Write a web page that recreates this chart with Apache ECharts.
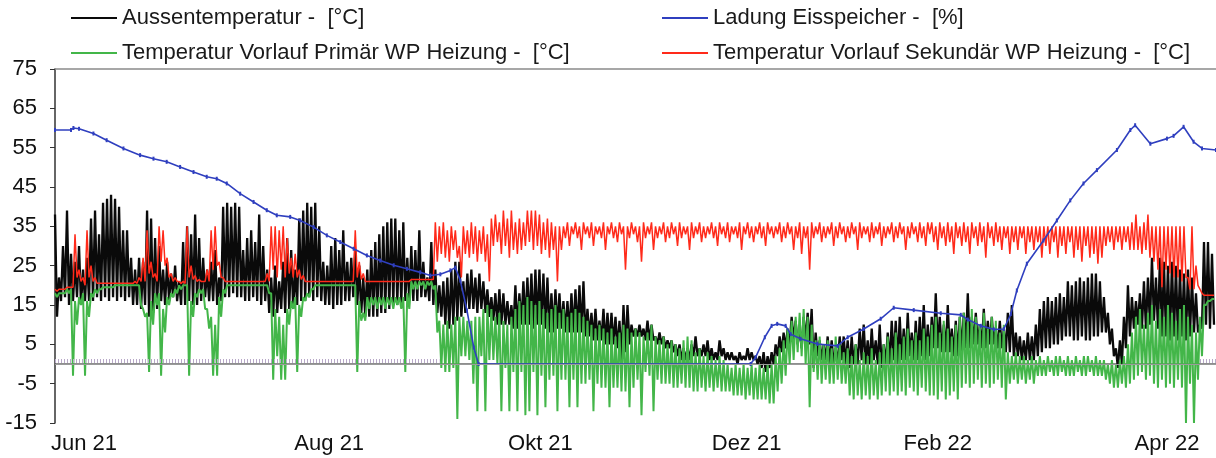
<!DOCTYPE html>
<html>
<head>
<meta charset="utf-8">
<script src="https://cdn.jsdelivr.net/npm/echarts@6/dist/echarts.min.js"></script>
<style>
  html, body { margin: 0; padding: 0; background: #fff; }
  #chart { width: 1216px; height: 458px; }
</style>
</head>
<body>
<div id="chart"></div>
<script>
// x position unit = one step of the logger export (about one day), 0..290
var tickPos = [7.25, 68.5, 121.25, 172.75, 220.5, 277.75];
var tickLabels = ['Jun 21', 'Aug 21', 'Okt 21', 'Dez 21', 'Feb 22', 'Apr 22'];

var nameAussen = 'Aussentemperatur -  [°C]';
var nameLadung = 'Ladung Eisspeicher -  [%]';
var namePrimaer = 'Temperatur Vorlauf Primär WP Heizung -  [°C]';
var nameSekundaer = 'Temperatur Vorlauf Sekundär WP Heizung -  [°C]';

// Aussentemperatur: daily peak / daily low
var aussenHi = [
  38,22,30,39,28,26,30,24,27,37, 39,33,41,42,43,42,40,34,34,27, 24,27,26,39,37,32,30,24,26,23,
  25,21,31,35,33,38,32,27,24,26, 29,22,40,41,40,41,40,29,32,34, 31,38,30,24,22,25,21,26,32,29,
  24,37,39,41,40,41,35,26,25,30, 32,29,34,26,
  27,29,25,22,24,29,31,33,35,36, 37,37,34,36,27,30,29,34,26,22, 31,24,20,21,22,24,26,26,21,23,
  24,22,23,21,19,17,18,19,18,16, 15,20,18,21,22,23,24,24,23,22, 18,19,18,16,16,18,19,20,21,14,
  13,14,11,14,13,13,12,11,15,15, 10,9,
  10,9,11,10,7,8,7,6,6,5, 5,4,4,5,7,4,5,6,4,3, 6,4,3,3,2,3,2,4,3,2,
  2,3,2,3,5,7,8,9,12,11, 9,12,13,14,8,6,5,7,6,4, 7,7,6,7,5,9,10,6,9,6,
  10,5,8,11,11,12,9,13,8,11, 12,15,10,
  12,18,12,10,15,9,11,12,13,18, 12,13,10,14,11,12,9,11,9,13, 15,8,7,6,8,7,10,14,16,17,
  16,17,18,17,21,20,21,22,21,22, 23,23,21,17,13,9,4,6,12,20, 17,16,18,21,22,27,22,27,26,25,
  26,25,24,23,24,22,18,10,31,31, 28
];
var aussenLo = [
  12,16,17,15,16,17,15,16,16,16, 17,16,17,16,17,16,17,16,17,15, 15,14,15,12,13,14,16,15,16,17,
  16,15,15,16,15,15,16,17,16,16, 15,16,17,17,18,17,17,16,16,17, 16,15,16,13,12,13,14,13,14,14,
  15,16,16,17,16,17,16,15,15,14, 15,15,16,16,
  17,15,13,12,12,12,12,13,13,14, 15,15,15,16,16,16,16,17,17,16, 15,13,12,10,9,10,11,12,13,14,
  14,13,14,13,12,11,10,10,10,10, 9,9,10,10,10,9,10,10,9,8, 8,9,9,8,8,8,8,8,7,7,
  6,6,6,5,5,5,4,1,3,5, 7,7,
  7,6,6,6,5,5,4,4,3,2, 1,1,1,2,2,2,2,1,1,1, 2,1,1,1,0,1,1,1,1,0,
  -1,-2,-1,0,2,3,4,5,6,5, 4,6,5,-1,2,1,1,0,0,0, 1,0,-1,0,0,1,0,0,1,0,
  -1,0,0,1,0,1,1,2,1,1, 2,1,2,
  4,4,3,3,3,2,2,3,4,4, 5,5,4,4,5,5,4,4,3,3, 2,2,1,1,1,1,2,3,4,4,
  5,5,6,7,7,6,6,7,6,6, 7,7,8,8,5,2,-1,0,4,7, 9,10,9,9,10,11,9,7,7,6,
  7,6,7,6,7,8,8,9,10,9, 10
];

// Vorlauf Primär
var primaerHi = [
  18,18,18,19,19,16,17,18,16,18, 19,19,19.5,19.5,19.5,20,20,20,20,20, 20,20,14,13,16,18,18,14,17,18,
  19,20,20,20,16,18,19,19,14,12, 10,17,19,20,20,20,20,20,20,20, 20,20,20,20,18,14,12,10,14,16,
  17,15,17,18,19,20,20,20,20,20, 20,20,20,20,
  20,20,16,13,17,17,17,17,17,17, 17,17,17,17,18,21,21,21,21,21, 21,20,11,10,11,10,12,12,12,11,
  11,12,12,14,15,14,12,13,11,10, 12,14,16,15,17,16,15,16,14,13, 14,15,13,14,12,13,14,13,12,11,
  10,9,10,9,8,9,7,8,10,9, 8,9,
  8,7,8,10,7,6,7,5,6,5, 4,6,7,6,3,4,2,3,2,1, 2,1,0,-1,0,-1,0,-1,0,-1,
  0,-1,0,0,2,4,6,9,11,12, 13,14,12,10,6,7,5,6,4,7, 5,3,4,2,5,1,3,2,4,1,
  3,5,7,4,8,5,7,9,6,8, 6,9,7,
  10,12,8,11,9,7,10,12,13,11, 14,12,10,13,9,12,11,8,10,3, 2,3,2,2,1,2,1,2,1,2,
  1,2,2,1,2,1,2,1,2,2, 1,2,1,1,0,1,0,1,2,5, 8,12,14,10,13,15,11,14,12,15,
  13,11,14,15,12,10,8,12,15,16, 16.5
];
var primaerLo = [
  17,18,18,18,-3,10,15,-3,12,17, 18,19,19.5,19.5,19.5,20,20,20,20,20, 20,15,12,-2,10,15,-3,8,15,17,
  18,19,20,-3,12,17,18,14,9,-3, -3,12,18,20,20,20,20,20,20,20, 20,20,20,18,-4,2,-4,-4,10,14,
  -2,12,16,17,19,20,20,20,20,20, 20,20,20,20,
  20,-2,11,11,14,15,14,15,14,15, 14,15,14,-2,14,19,19,20,19,20, 19,8,-1,-2,-2,-1,-14,2,2,1,
  -5,-12,2,-12,1,1,0,-12,-1,-12, -2,-12,-2,-13,-12,-2,-13,-3,-11,-4, -3,-12,-4,-4,-11,-4,-11,-5,-5,-4,
  -12,-5,-6,-6,-11,-6,-6,-7,-7,-11, -6,-4,
  -13,-2,-3,-12,-4,-5,-5,-5,-6,-6, -5,-6,-6,-7,-7,-6,-7,-6,-7,-6, -7,-7,-7,-8,-8,-8,-9,-8,-9,-9,
  -9,-9,-10,-10,-7,-5,-3,0,1,3, 2,0,-11,-2,-4,-5,-4,-5,-5,-4, -5,-5,-8,-9,-8,-9,-8,-9,-8,-9,
  -8,-7,-8,-7,-8,-7,-8,-6,-7,-8, -6,-7,-8,
  -8,-9,-7,-9,-8,-7,-9,-6,-5,-6, -5,-4,-6,-5,-6,-5,-4,-6,-9,-5, -4,-5,-4,-5,-4,-5,-3,-3,-3,-2,
  -3,-3,-2,-3,-3,-3,-2,-3,-3,-2, -3,-3,-3,-4,-5,-6,-6,-5,-6,-5, -4,-3,-2,-4,-3,-5,-6,-4,-6,-5,
  -6,-4,-6,-15,-5,-15,-4,2,15,16, 16.5
];

// Vorlauf Sekundär
var sekundaerHi = [
  19,19,19,19.5,19.5,33,24,22,34,25, 22,20.5,20.5,20.5,20.5,20.5,20.5,20.5,20.5,20.5, 21,22,27,34,26,23,35,34,27,23,
  22,21,21,35,25,22.5,21.5,21,24,34, 35,26,22,21,21,21,21,21,21,21, 21,21,21,23,35,35,34,35,32,27,
  28,24,22.5,21,21,21,21,21,21,21, 21,21,21,21,
  21,34,26,23,21,21,21,21,21,21, 21,21,21,21,21,21.5,21.5,21.5,21.5,21.5, 21.5,36,35,36,34,35,34,30,35,34,
  36,35,34,35,33,37,38,36,39,37, 39,36,37,36,39,39,39,38,36,37, 36,35,35,35,36,35,36,35,36,35,
  36,35,35,36,35,36,35,36,35,35, 36,35,
  35,36,35,36,35,35,36,35,36,35, 36,35,35,36,35,36,35,35,36,35, 36,35,36,35,35,36,35,36,35,35,
  36,35,36,35,35,36,35,36,35,35, 36,35,35,36,35,36,35,35,36,35, 36,35,35,36,35,36,35,35,36,35,
  36,35,35,36,35,36,35,35,36,35, 36,35,36,
  36,35,36,35,36,35,36,35,36,35, 36,35,36,35,36,35,36,35,35,35, 35,35,35,35,35,35,35,35,35,35,
  35,35,35,35,35,35,35,35,35,35, 35,35,35,35,35,35,35,35,35,35, 36,38,35,36,38,35,35,35,35,35,
  35,35,35,35,22,35,25,19,17.5,17.5, 17.5
];
var sekundaerLo = [
  18.5,19,19,19.5,19.5,22,21,20,22,21, 20.5,20.5,20.5,20.5,20.5,20.5,20.5,20.5,20.5,20.5, 20.5,21,21,23,22,21,26,25,22,21,
  21,20.5,20.5,22,21.5,21,21,21,21,24, 25,22,21,21,21,21,21,21,21,21, 21,21,21,21,24,22,24,22,23,22,
  22,21.5,21,21,21,21,21,21,21,21, 21,21,21,21,
  21,22,21.5,21,21,21,21,21,21,21, 21,21,21,21,21,21.5,21.5,21.5,21.5,21.5, 21.5,26,28,27,26,29,27,22,28,27,
  28,26,28,26,21,30,31,28,30,27, 29,28,29,30,31,29,30,28,29,27, 29,21,29,32,30,33,32,29,33,32,
  30,33,32,29,33,32,31,33,24,32, 33,31,
  26,32,33,29,32,33,31,32,33,30, 32,33,29,32,33,31,32,33,32,30, 33,32,31,33,32,29,33,32,31,33,
  32,30,33,32,33,31,32,33,29,32, 28,32,24,32,33,31,32,33,30,32, 33,31,32,33,29,32,33,31,32,33,
  30,32,33,31,32,33,29,32,33,31, 32,30,33,
  31,29,32,30,31,28,32,30,31,28, 32,30,31,27,32,30,31,29,32,28, 31,29,32,28,31,29,31,27,30,28,
  31,27,30,28,31,27,29,26,30,27, 28,25.5,27,30,31,29,31,29,31,29, 29,29,28,29,27,26,24,19.5,24,23,
  22,22,21,22,19,19,20,18,17.5,17.5, 17.5
];

// Ladung Eisspeicher (sparse readings)
var ladungX = [0,4,4.6,6,9.6,12.9,17.1,21.25,24.6,27.9,31.25,34.6,37.9,40.4,42.9,46.25,49.6,52.9,55.4,58.75,
  61.25,64.6,67.9,71.25,74.6,77.9,81.25,84.6,87.9,91.25,93.75,96.25,98.75,100,101.25,102.9,104.6,105.8,
  173.75,175,177.3,179,180.4,182.5,183.75,186.25,190.4,195.5,198,202,206.25,209.5,214.5,221.25,226.25,228,
  231.25,234.5,237,238.75,240.25,242.75,246.9,250.25,253.6,256.9,260.25,265.25,268.6,269.8,273.6,277.75,
  279.4,281.9,284.4,286.5,290];
var ladungY = [59.5,59.5,60,59.8,58.6,56.9,54.8,53.1,52.2,51.4,50.1,48.8,47.6,47.1,45.9,43.3,41.2,39.1,37.8,37.4,
  36.5,34.8,32.7,31,29.3,27.6,26.3,25.1,24.2,23.3,22.5,22.8,23.8,24.5,21.2,13.6,4.2,0,
  0,1.7,6.8,9.7,10.2,9.7,7.6,6.4,5.1,4.6,6.8,8.9,11.5,14.3,13.7,12.9,12.5,11.3,
  9.7,8.8,8.9,12.7,18.7,25.5,31.4,36.5,41.6,45.9,49.3,54.4,59.5,60.7,56,57.3,
  58,60.3,56.5,54.8,54.4];

// stretches where the hatched zero trace is visible
var hatchSpans = [[0, 96], [286, 290]];

function zig(hi, lo) {
  var out = [];
  for (var i = 0; i < hi.length; i++) {
    out.push([i, hi[i]]);
    out.push([i + 0.5, lo[i]]);
  }
  return out;
}

function pairs(xs, ys) {
  return xs.map(function (x, i) { return [x, ys[i]]; });
}

var chart = echarts.init(document.getElementById('chart'));

var legendBase = {
  icon: 'rect',
  itemWidth: 46,
  itemHeight: 2,
  padding: 0,
  selectedMode: false,
  textStyle: { fontFamily: 'Liberation Sans, Arial, sans-serif', fontSize: 22, color: '#1a1a1a', lineHeight: 22 }
};

var hatchLines = hatchSpans.map(function (s) {
  return [{ coord: [s[0], 0.7] }, { coord: [s[1], 0.7] }];
});

var option = {
  animation: false,
  backgroundColor: '#fff',
  grid: { left: 55, right: 0, top: 69, bottom: 35 },
  legend: [
    Object.assign({}, legendBase, { data: [nameAussen], left: 71, top: 7 }),
    Object.assign({}, legendBase, { data: [namePrimaer], left: 71, top: 42 }),
    Object.assign({}, legendBase, { data: [nameLadung], left: 662, top: 7 }),
    Object.assign({}, legendBase, { data: [nameSekundaer], left: 662, top: 42 })
  ],
  xAxis: [
    {
      type: 'value',
      min: 0,
      max: 290,
      splitLine: { show: false },
      axisTick: { show: false },
      axisLine: { lineStyle: { color: '#6a6a6a', width: 1.5 } },
      axisLabel: {
        customValues: tickPos,
        margin: 10,
        fontFamily: 'Liberation Sans, Arial, sans-serif',
        fontSize: 22,
        color: '#111',
        formatter: function (v) {
          var i = tickPos.indexOf(v);
          return i >= 0 ? tickLabels[i] : '';
        }
      }
    },
    {
      type: 'value',
      position: 'top',
      min: 0,
      max: 290,
      splitLine: { show: false },
      axisTick: { show: false },
      axisLabel: { show: false },
      axisLine: { show: true, lineStyle: { color: '#8a8a8a', width: 1.5 } }
    }
  ],
  yAxis: {
    type: 'value',
    min: -15,
    max: 75,
    interval: 10,
    splitLine: { show: false },
    axisLine: { show: true, lineStyle: { color: '#333', width: 1.5 } },
    axisTick: { show: true, inside: false, length: 5, lineStyle: { color: '#333' } },
    axisLabel: {
      margin: 18,
      fontFamily: 'Liberation Sans, Arial, sans-serif',
      fontSize: 22,
      color: '#111'
    }
  },
  series: [
    {
      name: nameAussen,
      type: 'line',
      data: zig(aussenHi, aussenLo),
      symbol: 'none',
      color: '#0a0a0a',
      lineStyle: { width: 2.3 },
      markLine: {
        silent: true,
        symbol: 'none',
        label: { show: false },
        lineStyle: { color: '#9a9a9a', width: 1, type: 'solid' },
        data: [{ yAxis: 0 }]
      }
    },
    {
      name: nameSekundaer,
      type: 'line',
      data: zig(sekundaerHi, sekundaerLo),
      symbol: 'none',
      color: '#ff2a1a',
      lineStyle: { width: 1.5 },
      markLine: {
        silent: true,
        symbol: 'none',
        label: { show: false },
        lineStyle: { color: '#b8a8c8', width: 4, type: [1, 2] },
        data: hatchLines
      }
    },
    {
      name: namePrimaer,
      type: 'line',
      data: zig(primaerHi, primaerLo),
      symbol: 'none',
      color: '#43b649',
      lineStyle: { width: 2 }
    },
    {
      name: nameLadung,
      type: 'line',
      data: pairs(ladungX, ladungY),
      symbol: 'rect',
      symbolSize: [2, 4],
      showSymbol: true,
      color: '#2f3fbf',
      lineStyle: { width: 1.6 }
    }
  ]
};

chart.setOption(option);
</script>
</body>
</html>
